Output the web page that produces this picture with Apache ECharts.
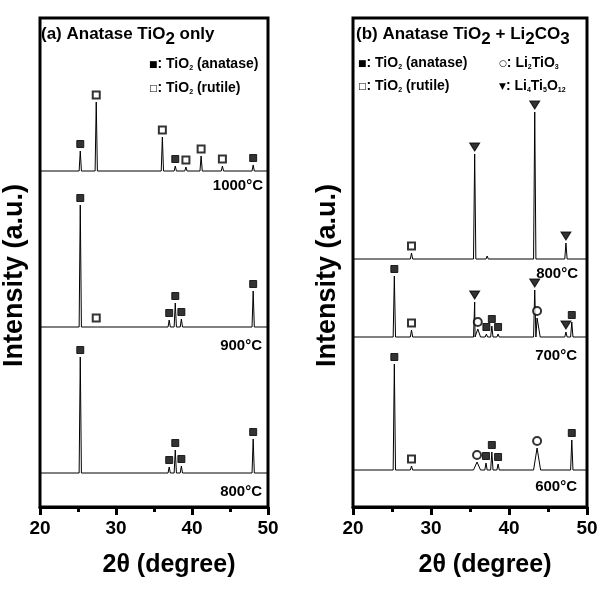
<!DOCTYPE html>
<html lang="en">
<head>
<meta charset="UTF-8">
<title>XRD TiO2</title>
<style>
    html, body { margin: 0; padding: 0; background: #fff; }
    #chart { width: 608px; height: 595px; }
</style>
</head>
<body>
<div id="chart"></div>
<script src="https://cdn.jsdelivr.net/npm/echarts@6/dist/echarts.min.js"></script>
<script>
// 2θ range of both panels
const xRange = [20, 50];
const xStep = 10;

// peaks: [2θ, height above baseline, phase, half width]
// phase: A anatase, R rutile, L Li2TiO3, T Li4Ti5O12, '' no marker
// intensity is in arbitrary units, baselines are the vertical offsets of each pattern

// (a) anatase TiO2 only
const a1000Base = 336;
const a1000Peaks = [[25.3, 20, 'A'], [27.4, 69, 'R'], [36.1, 34, 'R'], [37.8, 5, 'A'],
    [39.2, 4, 'R'], [41.2, 15, 'R'], [44.0, 5, 'R'], [48.05, 6, 'A']];
const a900Base = 180;
const a900Peaks = [[25.3, 122, 'A'], [27.4, 2, 'R'], [37.0, 7, 'A'], [37.8, 24, 'A'],
    [38.6, 8, 'A'], [48.05, 36, 'A']];
const a800Base = 34;
const a800Peaks = [[25.3, 116, 'A'], [37.0, 6, 'A'], [37.8, 23, 'A'], [38.6, 7, 'A'],
    [48.05, 34, 'A']];

// (b) anatase TiO2 + Li2CO3
const b800Base = 248;
const b800Peaks = [[27.5, 6, 'R'], [35.6, 105, 'T'], [37.2, 3, ''], [43.3, 147, 'T'],
    [47.3, 16, 'T']];
const b700Base = 170;
const b700Peaks = [[25.3, 61, 'A'], [27.5, 7, 'R'], [35.6, 35, 'T'], [36.0, 8, 'L', 0.35],
    [37.1, 3, 'A'], [37.8, 11, 'A'], [38.6, 3, 'A'], [43.3, 47, 'T'], [43.6, 19, 'L', 0.4],
    [47.3, 5, 'T'], [48.05, 15, 'A']];
const b600Base = 37;
const b600Peaks = [[25.3, 106, 'A'], [27.5, 4, 'R'], [35.9, 8, 'L', 0.45], [37.05, 7, 'A'],
    [37.8, 18, 'A'], [38.6, 6, 'A'], [43.6, 22, 'L', 0.45], [48.05, 30, 'A']];

const tempsA = ['1000°C', '900°C', '800°C'];
const tempsB = ['800°C', '700°C', '600°C'];

const FONT = '"Liberation Sans", Arial, sans-serif';

function trace(base, peaks) {
    const pts = [[xRange[0], base]];
    peaks.forEach(p => {
        const w = p[3] || 0.15;
        pts.push([p[0] - w, base], [p[0], base + p[1]], [p[0] + w, base]);
    });
    pts.push([xRange[1], base]);
    return pts.sort((a, b) => a[0] - b[0]);
}

function marks(list, phase) {
    const out = [];
    list.forEach(([base, peaks]) => {
        peaks.filter(p => p[2] === phase).forEach(p => out.push([p[0], base + p[1]]));
    });
    return out;
}

const grids = [
    { left: 37, right: 340, top: 18, bottom: 88 },
    { left: 353, right: 21, top: 18, bottom: 88 }
];

function xAxisOf(i) {
    return {
        gridIndex: i, type: 'value', min: xRange[0], max: xRange[1], interval: xStep,
        axisLine: { lineStyle: { color: '#000', width: 3 } },
        axisTick: { length: 8, lineStyle: { color: '#000', width: 3 } },
        minorTick: { show: true, splitNumber: 2, length: 5, lineStyle: { color: '#000', width: 3 } },
        splitLine: { show: false },
        axisLabel: { margin: 12, color: '#000', fontSize: 19, fontWeight: 'bold', fontFamily: FONT },
        name: '2θ (degree)', nameLocation: 'middle', nameGap: 46,
        nameTextStyle: { color: '#000', fontSize: 25, fontWeight: 'bold', fontFamily: FONT, padding: [0, 0, 0, 30] }
    };
}

function yAxisOf(i) {
    return {
        gridIndex: i, type: 'value', min: 0, max: 489,
        axisLine: { show: false }, axisTick: { show: false },
        axisLabel: { show: false }, splitLine: { show: false },
        name: 'Intensity (a.u.)', nameLocation: 'middle', nameRotate: 90, nameGap: 12,
        nameTextStyle: { color: '#000', fontSize: 27, fontWeight: 'bold', fontFamily: FONT, padding: [0, 26, 0, 0] }
    };
}

function lineSeries(i, base, peaks) {
    return {
        type: 'line', xAxisIndex: i, yAxisIndex: i, data: trace(base, peaks),
        symbol: 'none', lineStyle: { color: '#000', width: 1 }, z: 2
    };
}

const markStyle = {
    A: { symbol: 'rect', symbolSize: 7, color: '#000' },
    R: { symbol: 'emptyRect', symbolSize: 7, color: '#000' },
    L: { symbol: 'emptyCircle', symbolSize: 8, color: '#000' },
    T: { symbol: 'triangle', symbolSize: [10, 8], color: '#000', rotate: 180 }
};

function markSeries(i, list, phase) {
    const m = markStyle[phase];
    return {
        type: 'scatter', xAxisIndex: i, yAxisIndex: i, data: marks(list, phase),
        symbol: m.symbol, symbolSize: m.symbolSize, symbolRotate: m.rotate || 0,
        symbolOffset: [0, -7],
        itemStyle: { color: m.color, borderColor: '#000', borderWidth: 1 }, z: 3
    };
}

const listA = [[a1000Base, a1000Peaks], [a900Base, a900Peaks], [a800Base, a800Peaks]];
const listB = [[b800Base, b800Peaks], [b700Base, b700Peaks], [b600Base, b600Peaks]];

const series = [
    lineSeries(0, a1000Base, a1000Peaks),
    lineSeries(0, a900Base, a900Peaks),
    lineSeries(0, a800Base, a800Peaks),
    markSeries(0, listA, 'A'),
    markSeries(0, listA, 'R'),
    lineSeries(1, b800Base, b800Peaks),
    lineSeries(1, b700Base, b700Peaks),
    lineSeries(1, b600Base, b600Peaks),
    markSeries(1, listB, 'A'),
    markSeries(1, listB, 'R'),
    markSeries(1, listB, 'L'),
    markSeries(1, listB, 'T')
];

// rich text styles for titles and legends; subscripts are pushed down with top padding
const richTitle = {
    t: { fontSize: 17, fontWeight: 'bold', fontFamily: FONT, lineHeight: 20, color: '#000' },
    s: { fontSize: 17, fontWeight: 'bold', fontFamily: FONT, padding: [10, 0, 0, 0], color: '#000' }
};
const richLeg = {
    l: { fontSize: 14, fontWeight: 'bold', fontFamily: FONT, lineHeight: 18, color: '#000' },
    s: { fontSize: 7, fontWeight: 'bold', fontFamily: FONT, padding: [9, 0, 0, 0], color: '#000' },
    m: { fontSize: 9, fontFamily: '"DejaVu Sans", sans-serif', padding: [1, 0, 0, 0], color: '#000' }
};

function rtext(x, y, text, rich) {
    return {
        type: 'text', x: x, y: y, z: 10,
        style: { text: text, rich: rich, align: 'left', verticalAlign: 'middle', textAlign: 'left', textVerticalAlign: 'middle' }
    };
}

function temp(x, y, text) {
    return {
        type: 'text', x: x, y: y, z: 10,
        style: {
            text: text, fill: '#000', font: 'bold 15px ' + FONT,
            align: 'right', verticalAlign: 'middle', textAlign: 'right', textVerticalAlign: 'middle'
        }
    };
}

const graphics = [
    rtext(41, 34, '{t|(a) Anatase TiO}{s|2}{t| only}', richTitle),
    rtext(356, 34, '{t|(b) Anatase TiO}{s|2}{t| + Li}{s|2}{t|CO}{s|3}', richTitle),
    rtext(149, 64, '{m|■}{l|: TiO}{s|2}{l| (anatase)}', richLeg),
    rtext(149, 88, '{m|□}{l|: TiO}{s|2}{l| (rutile)}', richLeg),
    rtext(358, 63, '{m|■}{l|: TiO}{s|2}{l| (anatase)}', richLeg),
    rtext(358, 86, '{m|□}{l|: TiO}{s|2}{l| (rutile)}', richLeg),
    rtext(499, 63, '{m|○}{l|: Li}{s|2}{l|TiO}{s|3}', richLeg),
    rtext(499, 86, '{m|▼}{l|: Li}{s|4}{l|Ti}{s|5}{l|O}{s|12}', richLeg),
    temp(263, 186, tempsA[0]),
    temp(262, 346, tempsA[1]),
    temp(262, 492, tempsA[2]),
    temp(578, 274, tempsB[0]),
    temp(577, 356, tempsB[1]),
    temp(577, 487, tempsB[2])
];

const chart = echarts.init(document.getElementById('chart'), null, { renderer: 'canvas' });
chart.setOption({
    animation: false,
    backgroundColor: '#fff',
    grid: grids.map(g => Object.assign({ show: true, borderColor: '#000', borderWidth: 3, backgroundColor: 'transparent' }, g)),
    xAxis: [xAxisOf(0), xAxisOf(1)],
    yAxis: [yAxisOf(0), yAxisOf(1)],
    series: series,
    graphic: graphics
});
</script>
</body>
</html>
